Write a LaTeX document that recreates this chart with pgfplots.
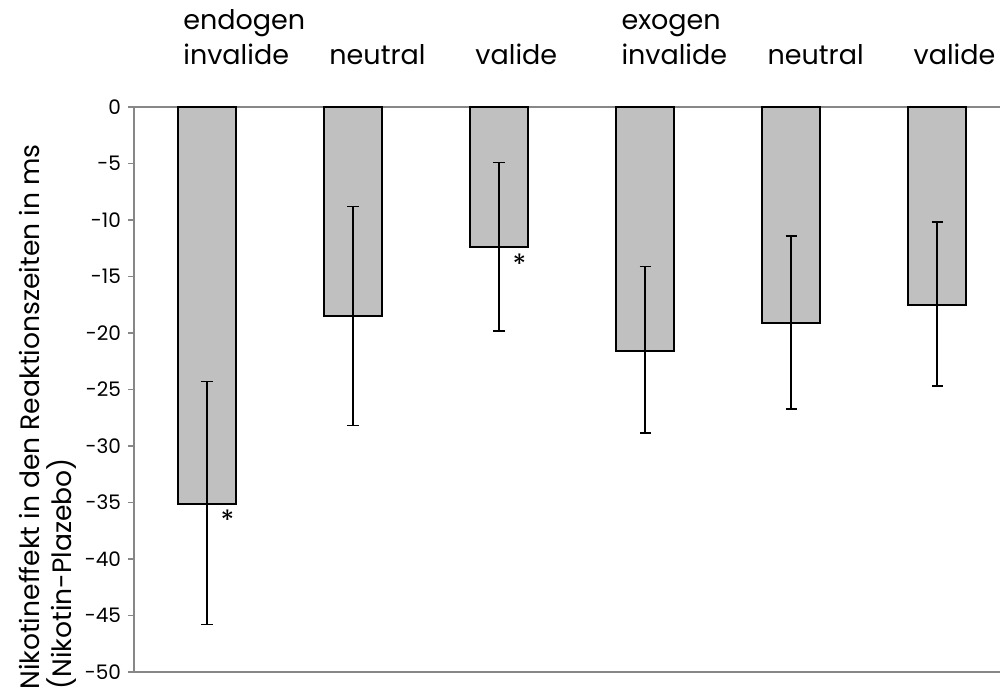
\documentclass[border=0pt]{standalone}
\usepackage{pgfplots}
\pgfplotsset{compat=1.18}
\usepackage{fontspec}
\setmainfont{Poppins}
\definecolor{axisgray}{RGB}{135,135,135}
\definecolor{barfill}{RGB}{192,192,192}
\begin{document}
\begin{tikzpicture}
\begin{axis}[
  scale only axis,
  width=433pt, height=282.5pt,
  xmin=-0.5, xmax=5.43,
  ymin=-50, ymax=0,
  axis y line*=left,
  axis x line*=top,
  axis line style={axisgray, line width=0.8pt},
  xtick={0,1,2,3,4,5},
  xticklabels={{endogen\\invalide},neutral,valide,{exogen\\invalide},neutral,valide},
  x tick style={draw=none},
  xticklabel style={inner sep=0pt, anchor=south west, align=left, text depth=0pt,
    font=\fontsize{13.5}{17.5}\selectfont, xshift=-12pt, yshift=18pt},
  ytick={-50,-45,...,0},
  yticklabels={-50,-45,-40,-35,-30,-25,-20,-15,-10,-5,0},
  y tick style={axisgray, line width=0.8pt},
  tick align=outside,
  major tick length=3pt,
  yticklabel style={font=\fontsize{10}{12}\selectfont},
  extra y ticks={-50},
  extra y tick labels={},
  extra y tick style={grid=major, major grid style={axisgray, line width=0.8pt}},
  ylabel={Nikotineffekt in den Reaktionszeiten in ms\\(Nikotin-Plazebo)},
  ylabel style={align=left, font=\fontsize{13.3}{16}\selectfont, inner sep=0pt,
    at={(axis description cs:-0.133,-0.032)}, anchor=north west},
  clip=false,
]
\addplot[ybar, bar width=29pt, fill=barfill, draw=black, line width=0.9pt,
  error bars/.cd, y dir=both, y explicit,
  error bar style={line width=0.8pt, black},
  error mark options={rotate=90, mark size=2.8pt, line width=0.8pt, black}]
  table[x=x, y=y, y error plus=ep, y error minus=em] {
x y ep em
0 -35.1 10.8 10.7
1 -18.5 9.7 9.7
2 -12.4 7.5 7.4
3 -21.6 7.5 7.25
4 -19.1 7.7 7.6
5 -17.5 7.3 7.2
};
\node[font=\fontsize{14}{14}\selectfont] at (axis cs:0.14,-36.6) {*};
\node[font=\fontsize{14}{14}\selectfont] at (axis cs:2.14,-13.9) {*};
\end{axis}
\pgfresetboundingbox
\path ([xshift=-67pt,yshift=53.5pt]current axis.north west) rectangle ([yshift=-10.5pt]current axis.south east);
\end{tikzpicture}
\end{document}
